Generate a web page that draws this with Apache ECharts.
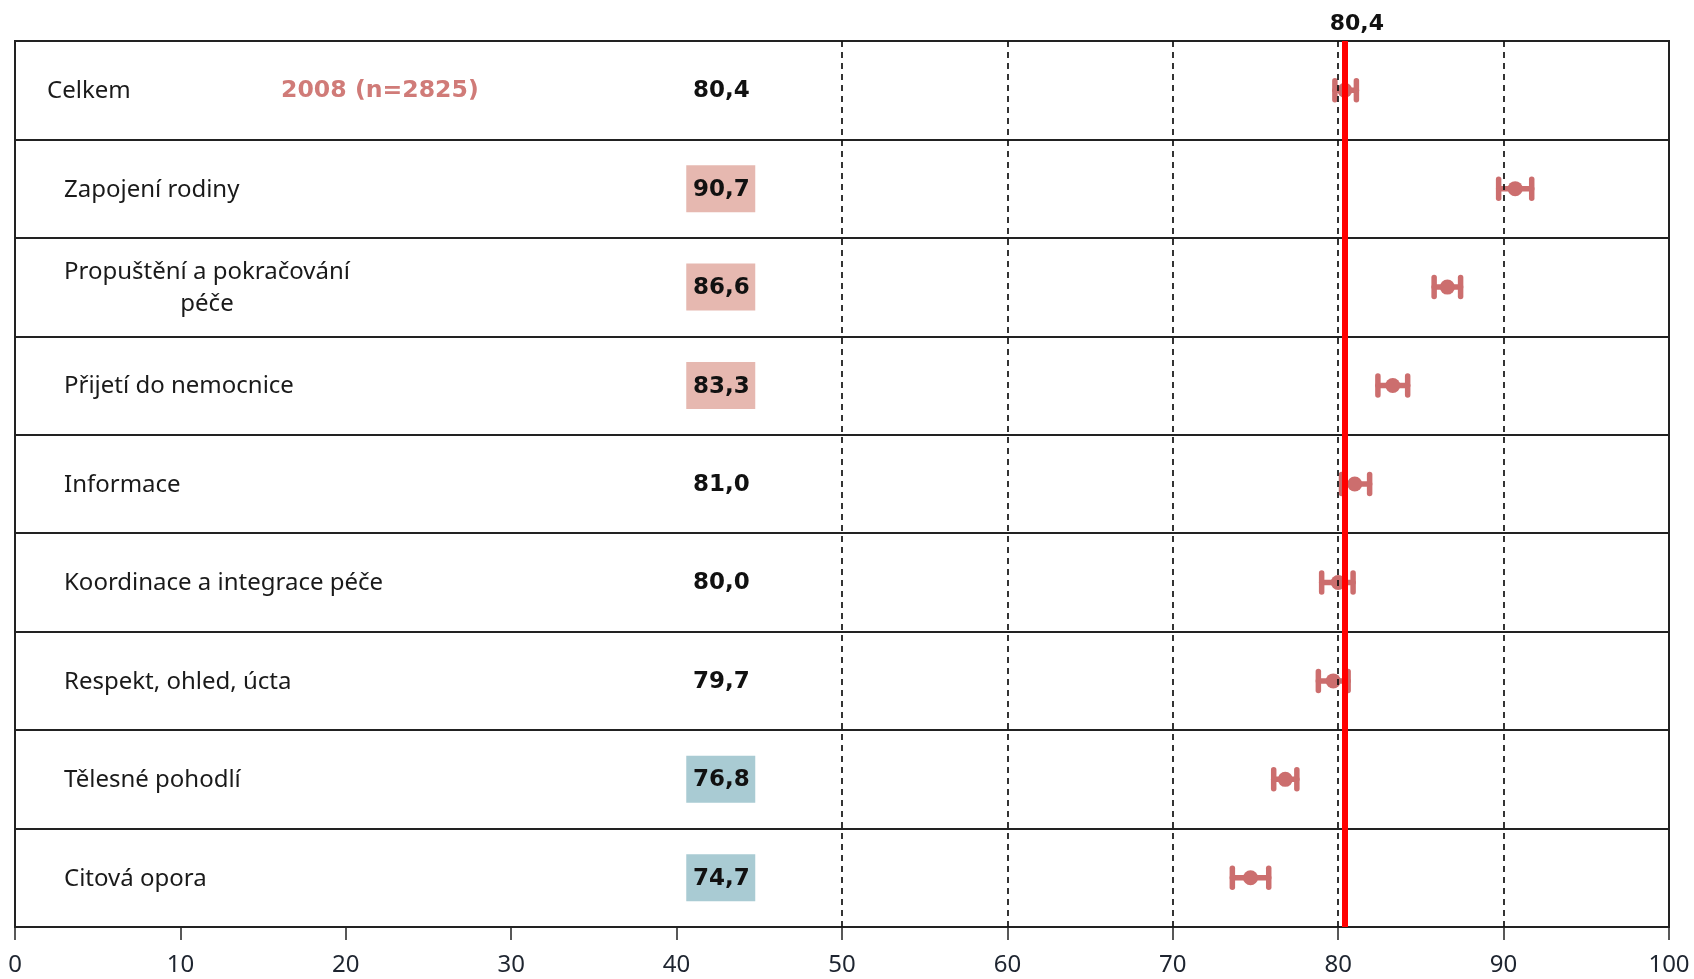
<!DOCTYPE html>
<html>
<head>
<meta charset="utf-8">
<style>
  html, body { margin: 0; padding: 0; background: #fff; }
  #chart { width: 1694px; height: 979px; }
</style>
<script src="https://cdn.jsdelivr.net/npm/echarts@6/dist/echarts.min.js"></script>
</head>
<body>
<div id="chart"></div>
<script>
// radky tabulky (shora dolu)
var categories = ['Celkem', 'Zapojení rodiny', 'Propuštění a pokračování\npéče', 'Přijetí do nemocnice',
  'Informace', 'Koordinace a integrace péče', 'Respekt, ohled, úcta', 'Tělesné pohodlí', 'Citová opora'];
var means = [80.4, 90.7, 86.6, 83.3, 81.0, 80.0, 79.7, 76.8, 74.7];
var lower = [79.8, 89.7, 85.8, 82.4, 80.2, 79.0, 78.8, 76.1, 73.6];
var upper = [81.1, 91.7, 87.4, 84.2, 81.9, 80.9, 80.6, 77.5, 75.8];
// 1 = vyrazne nad prumerem, -1 = pod prumerem, 0 = bez rozdilu
var flags = [0, 1, 1, 1, 0, 0, 0, -1, -1];
var overall = 80.4;
var sampleLabel = '2008 (n=2825)';
var gridLines = [50, 60, 70, 80, 90];
var xTicks = [0, 100, 10];

var barColor = '#cc6e6e';

function fmt(v) { return v.toFixed(1).replace('.', ','); }

var chart = echarts.init(document.getElementById('chart'));

var errData = categories.map(function (c, i) { return [lower[i], upper[i], i]; });
var meanData = categories.map(function (c, i) { return [means[i], i]; });
var tableData = categories.map(function (c, i) { return [0, i, means[i], flags[i]]; });

chart.setOption({
  animation: false,
  grid: { left: 15, right: 25, top: 41, bottom: 52, show: true, borderColor: '#222', borderWidth: 2,
    outerBoundsMode: 'none', containLabel: false },
  xAxis: {
    type: 'value', min: xTicks[0], max: xTicks[1], interval: xTicks[2],
    axisLine: { show: true, lineStyle: { color: '#222', width: 2 } },
    axisTick: { show: true, length: 13, lineStyle: { color: '#222', width: 1.5 } },
    axisLabel: { color: '#1e2530', fontSize: 24, fontFamily: 'Noto Sans', margin: 26 },
    splitLine: { show: false }
  },
  yAxis: {
    type: 'category', data: categories, inverse: true,
    axisLine: { show: false }, axisTick: { show: false }, axisLabel: { show: false },
    splitLine: { show: true, lineStyle: { color: '#222', width: 2 } }
  },
  series: [{
    // leva cast tabulky: nazvy a hodnoty
    type: 'custom',
    data: tableData,
    encode: { x: 0, y: 1 },
    silent: true,
    renderItem: function (params, api) {
      var i = api.value(1);
      var y = api.coord([0, i])[1];
      var x0 = params.coordSys.x;
      var vx = api.coord([42.7, i])[0];
      var children = [];
      var name = categories[i];
      if (i === 0) {
        children.push({ type: 'text', style: { text: name, x: x0 + 32, y: y + 1, verticalAlign: 'middle',
          font: '24px "Noto Sans"', fill: '#1a1a1a' } });
        children.push({ type: 'text', style: { text: sampleLabel, x: x0 + 266, y: y + 1, verticalAlign: 'middle',
          font: 'bold 23.6px "DejaVu Sans"', fill: '#d07b78' } });
      } else if (name.indexOf('\n') > -1) {
        children.push({ type: 'text', style: { text: name, x: x0 + 192, y: y + 1, align: 'center', verticalAlign: 'middle',
          lineHeight: 32, font: '24px "Noto Sans"', fill: '#1a1a1a' } });
      } else {
        children.push({ type: 'text', style: { text: name, x: x0 + 49, y: y + 1, verticalAlign: 'middle',
          font: '24px "Noto Sans"', fill: '#1a1a1a' } });
      }
      var f = api.value(3);
      if (f !== 0) {
        children.push({ type: 'rect', shape: { x: vx - 35, y: y - 23.5, width: 69, height: 47 },
          style: { fill: f > 0 ? '#e6b8b0' : '#a9cbd3' } });
      }
      children.push({ type: 'text', style: { text: fmt(api.value(2)), x: vx, y: y + 1, align: 'center',
        verticalAlign: 'middle', font: 'bold 23px "DejaVu Sans"', fill: '#111' } });
      return { type: 'group', children: children };
    },
    z: 3
  }, {
    // intervaly spolehlivosti
    type: 'custom',
    data: errData,
    encode: { x: [0, 1], y: 2 },
    silent: true,
    renderItem: function (params, api) {
      var i = api.value(2);
      var a = api.coord([api.value(0), i]);
      var b = api.coord([api.value(1), i]);
      var st = { stroke: barColor, lineWidth: 5.5, lineCap: 'round' };
      return {
        type: 'group',
        children: [
          { type: 'line', shape: { x1: a[0], y1: a[1], x2: b[0], y2: b[1] }, style: st },
          { type: 'line', shape: { x1: a[0], y1: a[1] - 9.5, x2: a[0], y2: a[1] + 9.5 }, style: st },
          { type: 'line', shape: { x1: b[0], y1: b[1] - 9.5, x2: b[0], y2: b[1] + 9.5 }, style: st }
        ]
      };
    },
    z: 4
  }, {
    // prumery + svisle pomocne cary
    type: 'scatter',
    data: meanData,
    symbolSize: 15,
    itemStyle: { color: barColor, opacity: 1 },
    silent: true,
    markLine: {
      silent: true, symbol: 'none', animation: false,
      label: { show: false },
      lineStyle: { color: '#111', type: [6, 5], width: 1.7 },
      data: gridLines.map(function (v) { return { xAxis: v }; })
    },
    z: 4
  }, {
    // celkovy prumer
    type: 'scatter',
    data: [[overall, 0]],
    symbolSize: 0,
    silent: true,
    markLine: {
      silent: true, symbol: 'none', animation: false,
      lineStyle: { color: '#ff0000', type: 'solid', width: 6, opacity: 1 },
      label: { show: true, position: 'start', formatter: fmt(overall), distance: 6, offset: [12, 0],
        color: '#111', fontWeight: 'bold', fontSize: 22, fontFamily: 'DejaVu Sans' },
      data: [{ xAxis: overall }]
    },
    z: 5
  }]
});
</script>
</body>
</html>
